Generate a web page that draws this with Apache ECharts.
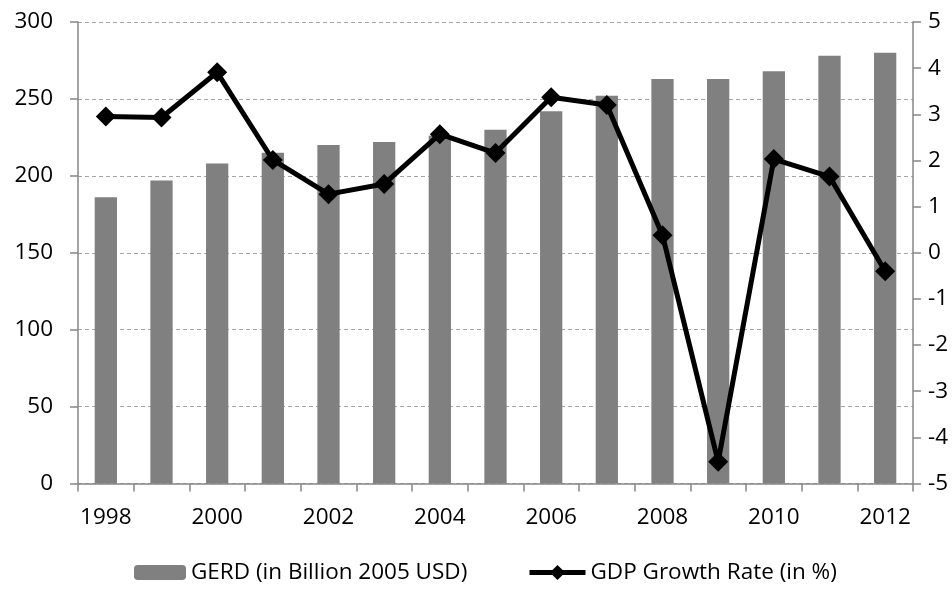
<!DOCTYPE html>
<html>
<head>
<meta charset="utf-8">
<script src="https://cdn.jsdelivr.net/npm/echarts@6/dist/echarts.min.js"></script>
<style>
html,body{margin:0;padding:0;background:#fff;}
#chart{width:952px;height:590px;}
</style>
</head>
<body>
<div id="chart"></div>
<script>
const years = ['1998','1999','2000','2001','2002','2003','2004','2005','2006','2007','2008','2009','2010','2011','2012'];
const gerd = [186, 197, 208, 215, 220, 222, 226, 230, 242, 252, 263, 263, 268, 278, 280];
const gdpGrowth = [2.95, 2.93, 3.91, 2.01, 1.27, 1.49, 2.57, 2.16, 3.37, 3.20, 0.38, -4.53, 2.03, 1.65, -0.40];
const gerdName = 'GERD (in Billion 2005 USD)';
const gdpName = 'GDP Growth Rate (in %)';

const FONT = 'Open Sans';
const FS = 22.5;
const axisGray = '#868686';

const chart = echarts.init(document.getElementById('chart'), null, {renderer: 'canvas'});
chart.setOption({
  animation: false,
  backgroundColor: '#ffffff',
  textStyle: {fontFamily: FONT},
  grid: {left: 78, right: 39, top: 22, bottom: 106.5, containLabel: false},
  legend: [
    {
      data: [gerdName],
      left: 134, top: 561, padding: 0,
      itemWidth: 52, itemHeight: 15,
      textStyle: {fontFamily: FONT, fontSize: FS, color: '#000'}
    },
    {
      data: [gdpName],
      left: 527, top: 561, padding: 0,
      itemWidth: 56, itemHeight: 19,
      lineStyle: {width: 5, color: '#000'},
      textStyle: {fontFamily: FONT, fontSize: FS, color: '#000'}
    }
  ],
  xAxis: {
    type: 'category',
    data: years,
    boundaryGap: true,
    axisLine: {lineStyle: {color: axisGray, width: 1.5}},
    axisTick: {show: true, length: 8, interval: 0, lineStyle: {color: axisGray, width: 1.5}},
    axisLabel: {interval: 1, margin: 23, fontFamily: FONT, fontSize: FS, color: '#000'},
    splitLine: {show: false}
  },
  yAxis: [
    {
      type: 'value', min: 0, max: 300, interval: 50, position: 'left',
      axisLine: {show: true, lineStyle: {color: axisGray, width: 1.5}},
      axisTick: {show: true, length: 8, lineStyle: {color: axisGray, width: 1.5}},
      axisLabel: {margin: 25, fontFamily: FONT, fontSize: FS, color: '#000'},
      splitLine: {show: true, lineStyle: {color: '#a6a6a6', width: 1, type: [4, 3]}}
    },
    {
      type: 'value', min: -5, max: 5, interval: 1, position: 'right',
      axisLine: {show: true, lineStyle: {color: axisGray, width: 1.5}},
      axisTick: {show: true, length: 8, lineStyle: {color: axisGray, width: 1.5}},
      axisLabel: {margin: 15, fontFamily: FONT, fontSize: FS, color: '#000'},
      splitLine: {show: false}
    }
  ],
  series: [
    {
      name: gerdName,
      type: 'bar',
      yAxisIndex: 0,
      data: gerd,
      barWidth: '40%',
      itemStyle: {color: '#808080'}
    },
    {
      name: gdpName,
      type: 'line',
      yAxisIndex: 1,
      data: gdpGrowth,
      symbol: 'diamond',
      symbolSize: 20,
      lineStyle: {color: '#000', width: 5},
      itemStyle: {color: '#000'},
      z: 5
    }
  ]
});
</script>
</body>
</html>
